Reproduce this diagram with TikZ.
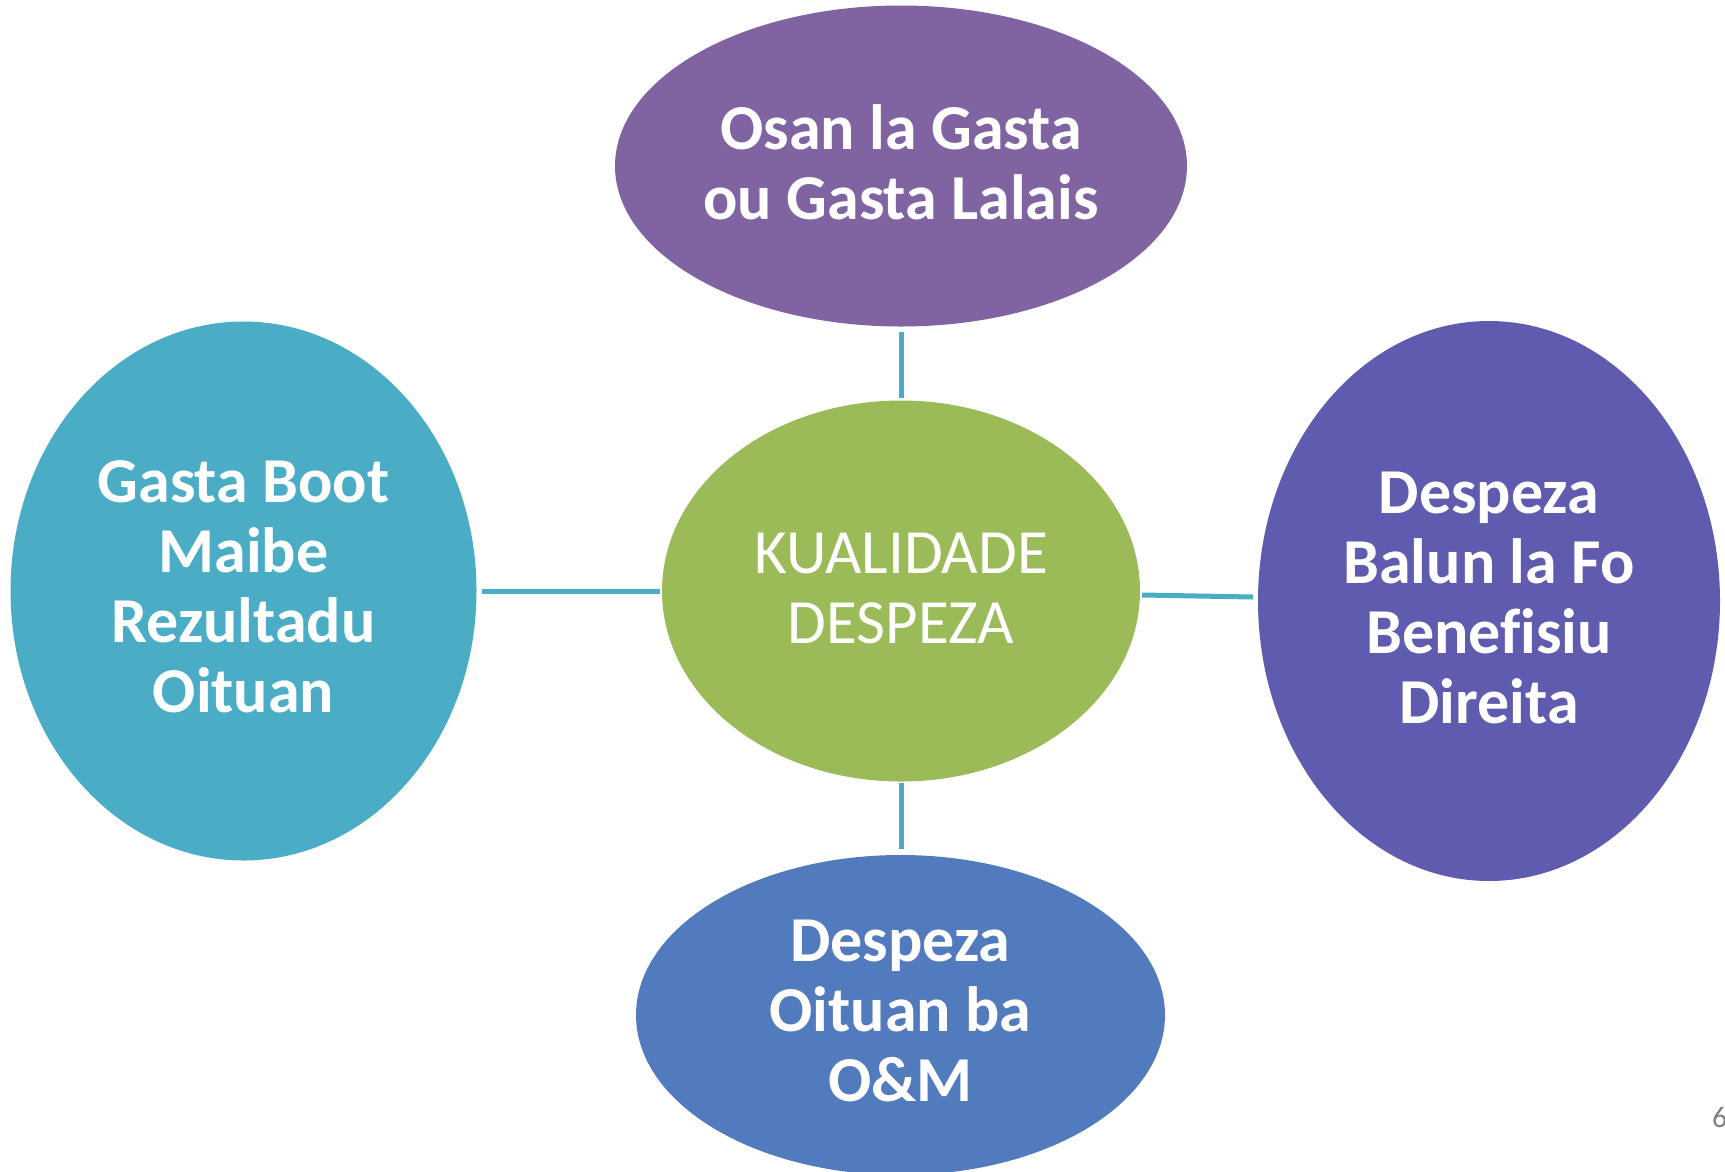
\documentclass[tikz,border=0pt]{standalone}
\usepackage{fontspec}
\setmainfont[RawFeature=-liga]{Carlito}
\usetikzlibrary{shapes.geometric}
\definecolor{cpurple}{HTML}{8064A2}
\definecolor{cgreen}{HTML}{9BBB59}
\definecolor{cteal}{HTML}{4BACC6}
\definecolor{cviolet}{HTML}{5F5BAE}
\definecolor{cblue}{HTML}{527BBD}
\definecolor{cline}{HTML}{4BACC6}
\tikzset{
  blob/.style={ellipse, inner sep=0pt, draw=none, align=center},
  boldtext/.style={text=white, font=\fontsize{64}{70}\selectfont\bfseries},
  lighttext/.style={text=white, font=\fontsize{63}{70}\selectfont},
  link/.style={draw=cline, line width=5pt},
  pagenum/.style={text=gray, font=\fontsize{30}{34}\selectfont, anchor=west, inner sep=0pt}
}
\begin{document}
\begin{tikzpicture}[x=1pt,y=-1pt]
\useasboundingbox (0,0) rectangle (1725,1171);
\node[blob, fill=cpurple, minimum width=572pt, minimum height=321pt] (top) at (901,166) {};
\node[blob, fill=cgreen, minimum width=478pt, minimum height=381pt] (mid) at (901,591) {};
\node[blob, fill=cteal, minimum width=466pt, minimum height=539pt] (left) at (243.5,591) {};
\node[blob, fill=cviolet, minimum width=462pt, minimum height=560pt] (right) at (1489,601) {};
\node[blob, fill=cblue, minimum width=529pt, minimum height=320pt] (bot) at (900.5,1015) {};
\node[boldtext, align=center] (toptxt) at (901,162) {Osan la Gasta\\ou Gasta Lalais};
\node[lighttext, align=center] (midtxt) at (901,588) {KUALIDADE\\DESPEZA};
\node[boldtext, align=center] (lefttxt) at (243.5,587) {Gasta Boot\\Maibe\\Rezultadu\\Oituan};
\node[boldtext, align=center] (righttxt) at (1489,598) {Despeza\\Balun la Fo\\Benefisiu\\Direita};
\node[boldtext, align=center] (bottxt) at (900.5,1011) {Despeza\\Oituan ba\\O\&M};
\coordinate (t1) at (901,332); \coordinate (t2) at (901,398);
\coordinate (l1) at (482,591); \coordinate (l2) at (660,591);
\coordinate (r1) at (1142,595); \coordinate (r2) at (1253,597);
\coordinate (b1) at (901,783); \coordinate (b2) at (901,849);
\draw[link] (t1) -- (t2);
\draw[link] (l1) -- (l2);
\draw[link] (r1) -- (r2);
\draw[link] (b1) -- (b2);
\node[pagenum] (pg) at (1712,1117) {6};
\end{tikzpicture}
\end{document}
